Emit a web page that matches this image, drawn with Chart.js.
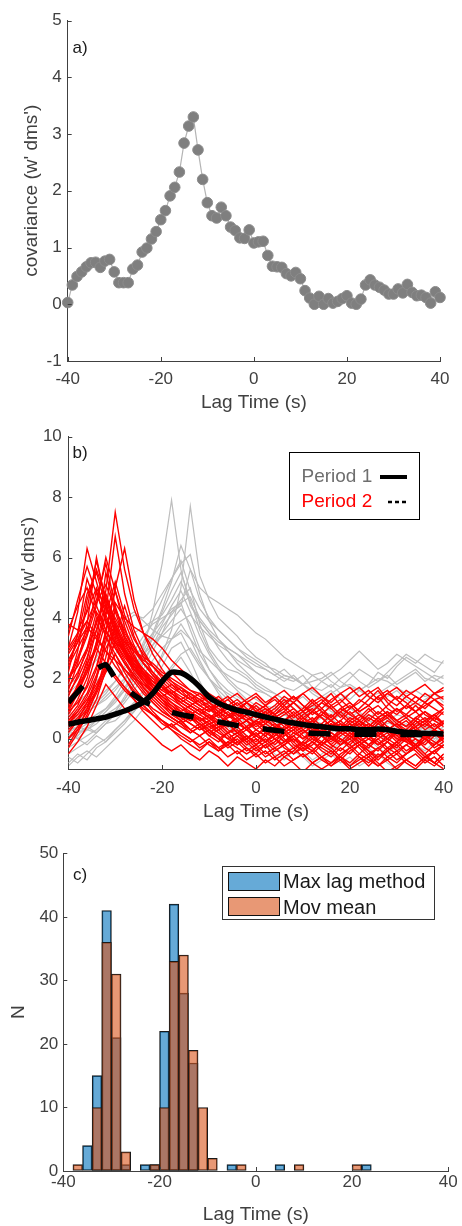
<!DOCTYPE html>
<html>
<head>
<meta charset="utf-8">
<script src="https://cdn.jsdelivr.net/npm/chart.js@4.4.1/dist/chart.umd.min.js"></script>
<style>
  html, body { margin: 0; padding: 0; background: #fff; }
  body { width: 462px; height: 1226px; position: relative; overflow: hidden; }
  canvas { position: absolute; left: 0; }
</style>
</head>
<body>
<canvas id="chartA" width="462" height="420" style="top:0px"></canvas>
<canvas id="chartB" width="462" height="410" style="top:420px"></canvas>
<canvas id="chartC" width="462" height="396" style="top:830px"></canvas>
<script>
// ---- panel a : mean covariance vs lag ----
var lagA = [-40,-39,-38,-37,-36,-35,-34,-33,-32,-31,-30,-29,-28,-27,-26,-25,-24,-23,-22,-21,
            -20,-19,-18,-17,-16,-15,-14,-13,-12,-11,-10,-9,-8,-7,-6,-5,-4,-3,-2,-1,
            0,1,2,3,4,5,6,7,8,9,10,11,12,13,14,15,16,17,18,19,
            20,21,22,23,24,25,26,27,28,29,30,31,32,33,34,35,36,37,38,39,40];
var covA = [0.03,0.34,0.49,0.57,0.66,0.73,0.74,0.65,0.76,0.79,
            0.57,0.38,0.38,0.38,0.62,0.69,0.92,0.99,1.15,1.28,
            1.49,1.65,1.91,2.06,2.33,2.84,3.14,3.30,2.72,2.20,
            1.79,1.56,1.52,1.71,1.56,1.36,1.30,1.17,1.16,1.31,
            1.08,1.10,1.11,0.86,0.67,0.66,0.65,0.54,0.50,0.56,
            0.45,0.24,0.11,0.00,0.14,0.00,0.10,0.02,0.05,0.10,
            0.15,0.02,0.00,0.09,0.34,0.43,0.34,0.30,0.25,0.18,
            0.18,0.27,0.20,0.35,0.21,0.15,0.16,0.12,0.02,0.22,
            0.12];

// ---- panel b : individual covariance runs (2 s grid) ----
var lagB = [-40,-38,-36,-34,-32,-30,-28,-26,-24,-22,-20,-18,-16,-14,-12,-10,-8,-6,-4,-2,
            0,2,4,6,8,10,12,14,16,18,20,22,24,26,28,30,32,34,36,38,40];
var period1Mean = [0.48,0.55,0.60,0.66,0.72,0.82,0.92,1.05,1.22,1.50, 1.90,2.20,2.18,2.00,1.72,1.38,1.18,1.05,0.95,0.88,
                   0.80,0.72,0.65,0.58,0.52,0.47,0.43,0.40,0.36,0.33, 0.33,0.30,0.30,0.32,0.30,0.25,0.22,0.20,0.18,0.17, 0.16];
var period2Mean = [1.20,1.55,1.90,2.30,2.45,2.00,1.70,1.45,1.25,1.10, 0.98,0.88,0.80,0.74,0.68,0.62,0.56,0.50,0.44,0.40,
                   0.36,0.32,0.28,0.24,0.22,0.20,0.18,0.17,0.16,0.16, 0.15,0.15,0.15,0.15,0.15,0.15,0.14,0.14,0.13,0.13, 0.12];
var period1Runs = [
  [0.3,0.4,0.6,0.8,1.0,1.3,1.6,2.2,3.0,4.2, 5.8,7.9,5.6,4.4,3.9,3.5,3.0,2.6,2.3,2.1, 1.8,1.6,1.5,1.3,1.2,1.0,1.1,0.9,0.8,0.9, 0.7,0.6,0.8,0.6,0.5,0.6,0.4,0.5,0.3,0.4, 0.3],
  [0.1,0.2,0.3,0.2,0.5,0.6,0.9,1.2,1.6,2.1, 2.8,3.6,5.0,7.7,5.4,4.6,4.0,3.7,3.4,3.0, 2.7,2.5,2.2,2.0,1.9,2.1,1.7,1.6,1.8,1.5, 1.3,1.6,1.8,2.2,2.0,2.4,2.7,2.5,2.8,2.6, 2.5],
  [0.5,0.7,0.9,1.1,1.4,1.7,2.0,2.4,2.9,3.5, 4.3,5.2,6.4,5.6,5.0,4.7,4.5,4.3,4.1,3.8, 3.5,3.3,3.0,2.7,2.5,2.3,2.1,2.2,1.9,1.7, 1.8,1.6,1.4,1.5,1.7,1.9,2.1,2.3,2.0,1.9, 2.1],
  [1.8,2.0,2.3,2.6,3.0,3.4,3.8,4.1,4.0,4.3, 4.8,5.3,5.9,4.9,4.3,3.9,3.6,3.3,3.0,2.8, 2.6,2.4,2.3,2.1,2.0,1.8,1.9,2.0,2.2,1.9, 1.7,1.6,1.8,2.0,1.9,1.7,1.5,1.6,1.4,1.5, 1.7],
  [0.2,0.0,0.3,0.5,0.8,1.0,1.3,1.8,2.3,2.9, 3.5,4.2,4.6,5.0,3.8,3.0,2.6,2.3,2.2,2.0, 1.7,1.5,1.3,1.2,1.0,0.8,0.9,0.7,0.6,0.8, 0.5,0.4,0.6,0.4,0.3,0.5,0.3,0.2,0.4,0.3, 0.2],
  [-0.3,-0.1,0.1,0.3,0.6,0.9,1.3,1.8,2.5,3.1, 3.7,4.1,4.5,3.6,2.8,2.3,1.9,1.6,1.4,1.2, 1.0,0.9,0.7,0.6,0.5,0.4,0.6,0.3,0.2,0.4, 0.2,0.1,0.3,0.1,0.0,0.2,0.1,-0.1,0.1,0.0, 0.1],
  [0.8,0.6,0.9,1.1,1.3,1.6,2.0,2.4,2.8,3.1, 3.4,3.7,3.9,4.1,3.7,3.4,3.1,2.9,2.6,2.4, 2.2,2.0,1.9,2.1,2.0,1.8,1.6,1.9,2.1,2.3, 2.6,2.9,2.6,2.3,2.5,2.8,2.6,2.4,2.2,2.0, 1.8],
  [-0.5,-0.3,-0.1,0.2,0.5,0.8,1.2,1.6,2.1,2.6, 3.0,3.3,3.5,2.9,2.4,2.0,1.7,1.5,1.3,1.1, 0.9,0.8,0.6,0.5,0.7,0.4,0.3,0.5,0.3,0.2, 0.4,0.1,0.3,0.2,0.0,0.2,0.1,0.3,0.1,0.0, 0.2],
  [-0.8,-0.5,-0.7,-0.3,-0.1,0.2,0.5,0.9,1.3,1.8, 2.4,3.0,3.2,2.6,1.9,1.3,0.9,0.6,0.3,0.1, -0.2,0.0,-0.3,-0.5,-0.2,-0.4,-0.7,-0.5,-0.3,-0.6, -0.8,-0.5,-0.3,-0.6,-0.4,-0.7,-0.5,-0.3,-0.6,-0.8, -0.5],
  [0.3,0.0,-0.2,0.1,-0.1,0.3,0.6,1.0,1.5,2.1, 2.7,3.3,3.8,3.3,2.6,2.0,1.5,1.1,0.8,0.5, 0.3,0.1,-0.2,0.0,-0.3,-0.1,0.1,-0.2,-0.4,-0.1, 0.1,-0.2,0.0,-0.3,-0.5,-0.2,0.0,-0.3,-0.1,0.1, -0.2],
  [1.5,1.8,2.2,2.7,3.2,3.7,4.0,4.2,3.9,3.6, 3.4,3.3,3.6,3.3,2.9,2.6,2.3,2.1,1.9,1.8, 1.6,1.5,1.3,1.2,1.4,1.1,1.0,1.2,0.9,0.8, 1.0,0.8,0.7,0.9,0.6,0.8,0.7,0.5,0.7,0.6, 0.5],
  [0.6,0.8,1.0,1.3,1.6,1.9,2.3,2.7,3.1,3.5, 3.9,4.3,4.5,4.7,4.0,3.6,3.3,3.0,2.8,2.5, 2.2,2.0,1.9,1.7,1.6,1.8,1.5,1.3,1.5,1.7, 2.0,2.3,2.1,1.9,2.2,2.5,2.8,2.6,2.4,2.2, 2.6],
  [-0.9,-0.6,-0.4,-0.6,-0.3,0.0,0.3,0.6,1.0,1.4, 1.9,2.3,2.7,2.2,1.6,1.1,0.7,0.4,0.1,-0.2, -0.4,-0.2,-0.5,-0.7,-0.4,-0.6,-0.9,-0.7,-0.5,-0.8, -0.6,-0.9,-0.7,-0.5,-0.8,-1.0,-0.7,-0.5,-0.8,-0.6, -0.9],
  [0.0,0.2,0.4,0.6,0.9,1.2,1.6,2.1,2.7,3.4, 4.2,4.9,5.5,4.6,3.6,2.9,2.4,2.0,1.7,1.5, 1.3,1.1,1.0,0.8,0.7,0.9,0.6,0.5,0.7,0.4, 0.3,0.5,0.4,0.2,0.4,0.3,0.1,0.3,0.2,0.0, 0.1],
  [0.4,0.3,0.5,0.7,1.0,1.4,1.9,2.5,3.2,3.9, 4.6,5.3,5.8,6.1,4.8,3.9,3.3,2.9,2.5,2.2, 1.9,1.7,1.5,1.3,1.2,1.4,1.1,0.9,1.0,0.8, 0.7,0.9,0.6,0.5,0.7,0.4,0.5,0.3,0.4,0.2, 0.3],
  [-0.6,-0.8,-0.5,-0.2,0.0,0.3,0.6,0.9,1.3,1.7, 2.0,2.4,2.8,3.0,2.5,2.0,1.6,1.3,1.0,0.8, 0.6,0.4,0.6,0.3,0.1,0.3,0.0,-0.2,0.1,-0.1, -0.3,0.0,-0.2,-0.4,-0.1,-0.3,-0.5,-0.2,-0.4,-0.1, -0.3],
  [0.2,0.4,0.3,0.6,0.9,1.3,1.7,2.2,2.8,3.3, 3.8,4.4,4.9,4.2,3.4,2.8,2.3,1.9,1.6,1.3, 1.1,0.9,1.1,0.8,0.6,0.8,0.5,0.7,0.4,0.6, 0.3,0.5,0.2,0.4,0.6,0.3,0.1,0.3,0.5,0.2, 0.4],
  [1.0,1.2,1.5,1.9,2.3,2.8,3.2,3.5,3.7,3.9, 4.1,4.6,5.2,4.5,3.9,3.5,3.2,3.0,2.8,2.6, 2.4,2.3,2.1,2.3,2.0,1.8,2.1,1.9,1.7,2.0, 2.2,1.9,1.7,1.9,2.1,1.8,2.0,2.2,1.9,2.1, 2.0],
  [-0.2,0.1,0.4,0.2,0.5,0.9,1.4,2.0,2.6,3.1, 3.5,3.9,4.3,3.8,3.0,2.3,1.8,1.4,1.1,0.8, 0.6,0.8,0.5,0.3,0.5,0.2,0.0,0.2,0.4,0.1, -0.1,0.2,0.0,-0.2,0.1,0.3,0.0,-0.2,0.1,-0.1, 0.2],
  [0.9,0.7,1.0,1.2,1.5,1.9,2.4,2.9,3.4,3.8, 4.0,4.2,4.4,5.6,4.6,4.0,3.6,3.3,3.0,2.7, 2.5,2.3,2.1,1.9,2.1,1.8,1.6,1.4,1.6,1.3, 1.5,1.7,1.4,1.2,1.4,1.6,1.3,1.1,1.3,1.5, 1.2]
];
var period2Runs = [
  [2.0,2.4,3.0,3.8,4.9,7.5,5.6,4.3,3.5,3.0, 2.6,2.2,1.9,1.6,1.4,1.2,1.0,0.8,0.9,0.7, 0.5,0.6,0.4,0.3,0.5,0.2,0.4,0.1,0.3,0.5, 0.2,0.0,0.3,0.1,0.4,0.2,0.0,0.3,0.1,0.2, 0.0],
  [3.0,4.2,6.3,5.2,4.1,3.4,2.8,2.3,1.9,1.6, 1.3,1.0,0.8,0.6,0.7,0.4,0.5,0.2,0.3,0.0, 0.2,-0.1,0.1,0.3,0.0,-0.2,0.1,-0.1,0.2,0.0, -0.3,-0.1,0.1,-0.2,0.0,0.2,-0.1,-0.3,0.0,-0.2, 0.1],
  [1.2,1.6,2.2,3.0,4.2,6.7,4.8,3.6,2.9,2.4, 2.0,1.7,1.5,1.3,1.1,1.2,0.9,0.7,0.8,0.6, 0.4,0.6,0.8,0.5,0.3,0.6,0.9,0.7,0.4,0.6, 0.3,0.5,0.8,0.6,0.3,0.5,0.7,0.4,0.6,0.8, 0.5],
  [2.5,3.2,4.3,5.9,4.6,3.7,3.0,2.5,2.1,1.8, 1.5,1.3,1.1,0.9,0.7,0.5,0.6,0.3,0.1,0.3, 0.0,-0.3,-0.1,0.2,-0.2,-0.4,-0.1,-0.3,-0.5,-0.2, 0.0,-0.3,-0.6,-0.3,-0.1,-0.4,-0.2,0.0,-0.3,-0.5, -0.2],
  [0.8,1.3,2.0,3.2,5.5,4.2,3.3,2.7,2.3,1.9, 1.7,1.4,1.2,1.0,0.8,1.0,0.7,0.9,0.6,0.8, 1.1,0.8,1.0,1.3,1.0,0.7,0.9,1.2,1.5,1.1, 0.8,1.0,1.3,1.6,1.2,0.9,1.1,1.4,1.2,1.5, 1.3],
  [3.8,3.6,4.2,5.0,4.3,3.6,3.2,2.9,2.7,2.5, 2.2,2.0,1.8,1.6,1.5,1.3,1.2,1.0,0.8,1.0, 0.7,0.9,0.6,0.8,1.0,0.7,0.5,0.8,0.6,0.9, 1.1,0.8,0.6,0.9,0.7,1.0,0.8,0.6,0.9,0.7, 1.0],
  [1.5,2.0,2.7,3.6,4.8,3.9,3.2,2.6,2.2,1.8, 1.5,1.2,0.9,0.7,0.5,0.3,0.1,-0.2,0.0,-0.3, -0.5,-0.2,-0.6,-0.4,-0.7,-0.5,-0.8,-0.6,-0.4,-0.7, -0.9,-0.6,-0.8,-0.5,-0.7,-1.0,-0.7,-0.5,-0.8,-0.6, -0.9],
  [0.3,0.6,1.0,1.6,2.7,4.3,3.5,3.0,2.6,2.4, 2.1,1.8,1.6,1.5,1.3,1.4,1.1,1.3,1.0,1.2, 0.9,1.1,1.4,1.1,0.8,1.0,1.3,1.0,0.7,1.0, 1.2,0.9,1.1,1.4,1.0,0.8,1.1,0.9,1.2,1.0, 0.8],
  [2.2,3.5,5.3,4.4,3.6,3.0,2.5,2.1,1.7,1.4, 1.1,0.9,0.7,0.5,0.3,0.4,0.2,0.0,0.2,-0.1, 0.1,0.3,0.0,0.2,0.4,0.1,-0.1,0.2,0.0,0.3, 0.1,-0.2,0.0,0.2,0.4,0.1,-0.1,0.2,0.0,0.3, 0.1],
  [1.0,1.7,2.6,4.0,3.5,3.2,2.9,2.6,2.3,2.0, 1.7,1.5,1.3,1.1,0.9,0.7,0.8,0.5,0.6,0.3, 0.5,0.2,0.4,0.1,0.3,0.5,0.2,0.4,0.6,0.3, 0.1,0.4,0.2,0.5,0.3,0.0,0.2,0.4,0.1,0.3, 0.5],
  [-0.2,0.3,1.0,2.0,3.4,2.6,2.0,1.5,1.1,0.8, 0.5,0.3,0.1,-0.1,0.1,-0.2,-0.4,-0.1,-0.3,-0.5, -0.3,-0.6,-0.4,-0.2,-0.5,-0.3,-0.1,-0.4,-0.6,-0.3, -0.5,-0.2,-0.4,-0.7,-0.4,-0.2,-0.5,-0.3,-0.6,-0.4, -0.2],
  [1.6,2.5,3.8,6.0,4.5,3.5,2.8,2.2,1.8,1.5, 1.2,1.0,0.8,0.6,0.7,0.5,0.3,0.5,0.2,0.4, 0.6,0.3,0.5,0.2,0.4,0.7,0.4,0.2,0.5,0.3, 0.6,0.8,0.5,0.3,0.6,0.4,0.2,0.5,0.7,0.4, 0.6],
  [0.5,0.9,1.4,2.1,3.2,4.5,4.0,3.7,3.5,3.3, 3.0,2.6,2.3,2.0,1.7,1.5,1.3,1.1,1.3,1.0, 0.8,1.0,0.7,0.9,1.2,0.9,0.6,0.8,1.1,0.8, 0.5,0.7,1.0,0.7,0.9,0.6,0.8,1.1,0.8,0.6, 0.9],
  [2.8,3.3,3.9,4.6,5.8,4.4,3.4,2.7,2.1,1.7, 1.4,1.1,0.8,0.9,0.6,0.7,0.4,0.5,0.2,0.4, 0.1,-0.1,0.2,-0.1,0.1,-0.2,0.0,0.3,0.0,-0.2, 0.1,-0.1,-0.3,0.0,0.2,-0.1,0.1,-0.2,0.0,-0.3, -0.1],
  [0.0,0.4,0.9,1.5,2.2,2.8,2.2,1.7,1.3,0.9, 0.6,0.3,0.0,-0.2,-0.4,-0.1,-0.3,-0.6,-0.4,-0.7, -0.5,-0.8,-0.6,-0.9,-0.7,-0.5,-0.8,-1.0,-0.8,-0.6, -0.9,-0.7,-0.5,-0.8,-1.1,-0.9,-0.7,-0.9,-0.6,-0.8, -1.0],
  [2.6,3.2,3.7,3.3,2.9,2.6,2.3,2.0,1.8,1.6, 1.4,1.6,1.3,1.1,0.9,1.1,0.8,1.0,1.2,0.9, 0.7,0.9,1.1,1.4,1.2,0.9,1.1,1.3,1.0,1.2, 1.5,1.7,1.4,1.2,1.5,1.3,1.6,1.4,1.2,1.5, 1.6],
  [0.9,1.2,1.7,2.4,3.5,4.9,3.7,2.8,2.2,1.7, 1.3,1.0,0.7,0.5,0.3,0.5,0.2,0.0,0.2,0.4, 0.1,-0.1,0.1,0.3,0.6,0.3,0.1,-0.2,0.0,0.2, 0.5,0.2,0.0,-0.2,0.1,0.3,0.0,-0.3,-0.1,0.2, 0.0],
  [1.1,1.8,2.5,3.0,2.5,2.1,1.7,1.4,1.1,0.8, 0.6,0.4,0.2,0.0,-0.2,0.0,-0.3,-0.1,0.1,-0.2, 0.0,-0.3,-0.1,0.2,-0.1,-0.4,-0.2,0.1,-0.2,-0.4, -0.1,0.1,-0.2,-0.4,-0.1,-0.3,0.0,-0.2,-0.5,-0.2, 0.0],
  [1.9,2.6,3.4,4.4,6.0,4.9,3.9,3.1,2.5,2.1, 1.8,1.5,1.3,1.1,0.9,0.7,0.9,0.6,0.4,0.6, 0.3,0.5,0.7,0.4,0.2,0.4,0.6,0.3,0.5,0.2, 0.4,0.6,0.3,0.1,0.3,0.5,0.2,0.4,0.6,0.3, 0.1],
  [3.0,3.5,3.9,3.4,2.9,2.4,2.0,1.6,1.3,1.0, 0.8,0.6,0.4,0.2,0.4,0.1,0.3,0.0,-0.2,0.1, -0.1,0.2,0.0,-0.2,0.1,0.3,0.0,-0.2,0.1,-0.1, 0.2,-0.1,0.1,0.3,0.0,-0.2,0.1,0.3,0.0,0.2, -0.1],
  [0.4,0.7,1.1,1.6,2.3,3.3,4.4,3.4,2.7,2.2, 1.8,1.5,1.2,1.0,0.8,0.6,0.8,0.5,0.7,0.4, 0.6,0.8,0.5,0.3,0.5,0.8,1.0,0.7,0.4,0.6, 0.9,0.6,0.3,0.6,0.8,0.5,0.3,0.6,0.4,0.7, 0.5],
  [0.6,0.9,1.3,1.8,2.4,2.0,1.6,1.3,1.0,0.8, 0.6,0.4,0.6,0.3,0.1,0.3,0.0,0.2,-0.1,0.1, -0.2,0.0,-0.3,-0.1,0.1,-0.2,-0.4,-0.1,-0.3,0.0, -0.2,-0.5,-0.2,0.0,-0.3,-0.1,-0.4,-0.2,0.1,-0.1, -0.3],
  [1.3,1.7,2.3,3.1,4.1,5.2,4.1,3.3,2.8,2.4, 2.1,1.9,1.7,1.5,1.3,1.1,0.9,1.1,0.8,0.6, 0.8,0.5,0.7,0.9,0.6,0.4,0.6,0.9,0.6,0.4, 0.7,0.5,0.2,0.5,0.7,0.4,0.6,0.3,0.5,0.8, 0.5],
  [0.2,0.6,1.2,2.0,3.0,3.6,2.9,2.3,1.9,1.6, 1.3,1.1,0.9,1.1,1.3,1.0,1.2,1.4,1.1,1.3, 1.5,1.2,1.4,1.6,1.3,1.5,1.7,1.4,1.2,1.5, 1.7,1.4,1.6,1.3,1.5,1.7,1.4,1.6,1.8,1.5, 1.7],
  [-0.5,-0.1,0.4,1.1,1.8,1.4,1.0,0.7,0.4,0.1, -0.2,-0.4,-0.2,-0.5,-0.7,-0.4,-0.6,-0.9,-0.6,-0.8, -1.0,-0.7,-0.9,-0.6,-0.8,-1.1,-0.8,-0.6,-0.9,-0.7, -1.0,-0.8,-0.6,-0.9,-0.7,-0.5,-0.8,-1.0,-0.7,-0.9, -0.6],
  [0.9,1.5,2.4,3.6,4.4,3.7,3.0,2.5,2.0,1.6, 1.3,1.0,0.7,0.9,0.6,0.3,0.5,0.2,0.4,0.6, 0.3,0.1,0.4,0.2,-0.1,0.2,0.4,0.1,-0.1,0.2, 0.0,0.3,0.5,0.2,0.0,0.3,0.1,-0.2,0.1,0.3, 0.0],
  [1.8,2.9,4.6,5.6,4.7,3.8,3.1,2.6,2.2,1.9, 1.6,1.4,1.2,1.4,1.1,0.9,1.2,1.0,0.7,0.9, 1.2,1.0,0.8,1.1,1.4,1.1,0.9,1.2,1.0,0.7, 1.0,1.3,1.1,0.8,1.1,1.4,1.2,0.9,1.1,1.3, 1.0],
  [0.7,1.1,1.8,2.8,3.9,3.2,2.6,2.1,1.7,1.3, 1.0,0.7,0.5,0.2,0.4,0.1,-0.1,0.2,0.4,0.1, -0.2,0.1,0.3,0.0,-0.3,-0.1,0.2,0.4,0.1,-0.2, 0.0,0.3,0.1,-0.1,-0.4,-0.1,0.2,0.0,-0.2,0.1, 0.3],
  [2.4,3.0,3.6,4.5,5.1,4.3,3.6,3.0,2.5,2.1, 1.7,1.4,1.1,0.8,1.0,0.7,0.5,0.8,0.5,0.3, 0.6,0.4,0.1,0.4,0.6,0.3,0.5,0.2,0.0,0.3, 0.5,0.2,0.4,0.7,0.4,0.1,0.3,0.6,0.3,0.5, 0.2],
  [0.0,0.3,0.7,1.3,2.3,3.8,3.0,2.4,1.9,1.5, 1.2,0.9,0.6,0.8,0.5,0.2,0.4,0.1,-0.2,0.0, -0.3,-0.1,-0.4,-0.2,0.0,-0.3,-0.5,-0.2,-0.4,-0.7, -0.4,-0.2,-0.5,-0.3,-0.6,-0.8,-0.5,-0.3,-0.6,-0.4, -0.7],
  [3.4,4.6,5.7,4.8,4.0,3.3,2.8,2.4,2.1,1.9, 1.7,1.5,1.3,1.5,1.2,1.0,0.8,1.1,0.9,1.2, 1.0,0.7,0.9,1.2,1.4,1.1,0.8,1.0,1.3,1.5, 1.2,0.9,1.1,1.4,1.6,1.3,1.0,1.2,1.5,1.3, 1.1],
  [1.4,2.1,3.0,4.2,3.6,3.0,2.5,2.1,1.7,1.4, 1.1,0.8,0.6,0.3,0.5,0.2,0.0,-0.3,-0.1,-0.4, -0.2,-0.5,-0.3,-0.6,-0.4,-0.1,-0.3,-0.6,-0.8,-0.5, -0.3,-0.6,-0.9,-0.6,-0.4,-0.7,-0.5,-0.2,-0.5,-0.8, -0.5],
  [0.6,1.0,1.5,2.3,3.6,5.0,6.3,4.6,3.5,2.8, 2.3,1.9,1.6,1.3,1.1,0.9,1.1,0.8,0.6,0.8, 0.5,0.7,0.4,0.6,0.9,0.6,0.3,0.5,0.8,0.5, 0.3,0.6,0.4,0.7,0.9,0.6,0.4,0.7,0.5,0.3, 0.6],
  [2.0,2.7,3.5,4.9,3.9,3.1,2.5,2.0,1.6,1.2, 0.9,0.7,0.5,0.7,0.4,0.6,0.3,0.5,0.2,0.0, 0.3,0.1,-0.2,0.1,0.3,0.0,0.2,0.5,0.2,0.0, -0.2,0.1,0.4,0.1,-0.1,0.2,0.0,-0.3,0.0,0.2, -0.1],
  [1.0,1.5,2.2,3.2,4.4,3.5,2.9,2.5,2.2,1.9, 1.7,1.5,1.7,1.4,1.2,1.4,1.1,1.3,1.5,1.2, 1.4,1.1,1.3,1.0,1.2,1.5,1.2,1.4,1.1,1.3, 1.0,1.2,1.5,1.7,1.3,1.1,1.4,1.2,1.0,1.3, 1.4],
  [-0.3,0.2,0.8,1.6,2.5,2.1,1.7,1.3,0.9,0.6, 0.3,0.5,0.2,0.0,-0.3,-0.1,-0.4,-0.2,-0.5,-0.3, -0.6,-0.4,-0.7,-0.5,-0.3,-0.6,-0.4,-0.7,-0.9,-0.6, -0.8,-0.5,-0.7,-0.9,-0.6,-0.4,-0.7,-0.9,-0.6,-0.8, -0.5],
  [2.9,3.4,4.8,5.5,4.4,3.5,2.9,2.4,2.0,1.7, 1.4,1.2,1.0,0.8,0.6,0.8,0.5,0.7,0.9,0.6, 0.8,0.5,0.3,0.6,0.8,0.5,0.7,0.4,0.6,0.9, 0.6,0.4,0.7,0.5,0.8,0.6,0.4,0.7,0.9,0.6, 0.4],
  [1.7,2.2,2.9,3.9,4.6,4.0,3.4,2.9,2.5,2.2, 1.9,1.6,1.4,1.2,1.0,0.8,0.6,0.4,0.6,0.3, 0.1,0.4,0.2,-0.1,0.2,0.0,0.3,0.1,-0.2,0.1, 0.3,0.0,-0.2,0.1,0.3,0.0,-0.1,0.2,0.0,-0.2, 0.1],
  [0.5,0.8,1.2,1.7,2.4,3.2,2.7,2.3,2.0,1.8, 1.6,1.8,1.5,1.3,1.5,1.2,1.4,1.1,0.9,1.2, 0.9,1.1,0.8,1.0,0.7,0.9,1.2,0.9,0.7,1.0, 0.8,0.6,0.9,1.1,0.8,1.0,0.7,0.9,0.6,0.8, 1.0],
  [3.6,4.4,5.0,4.1,3.4,2.8,2.3,1.9,1.5,1.2, 0.9,0.7,0.5,0.3,0.1,0.3,0.0,-0.2,0.1,-0.1, -0.4,-0.2,0.0,-0.3,-0.5,-0.2,-0.4,-0.1,-0.3,-0.6, -0.3,-0.1,-0.4,-0.6,-0.3,-0.5,-0.2,-0.4,-0.7,-0.4, -0.2]
];

// ---- panel c : histogram of lag times (2 s bins) ----
var binCenters = [-39,-37,-35,-33,-31,-29,-27,-25,-23,-21,-19,-17,-15,-13,-11,-9,-7,-5,-3,-1,
                  1,3,5,7,9,11,13,15,17,19,21,23,25,27,29,31,33,35,37,39];
var maxLagCounts  = [0,0,4,15,41,21,1,0,1,1, 22,42,28,17,0,0,0,1,0,0, 0,0,1,0,0,0,0,0,0,0, 0,1,0,0,0,0,0,0,0,0];
var movMeanCounts = [0,1,0,10,36,31,3,0,0,1, 10,33,34,19,10,2,0,0,1,0, 0,0,0,0,1,0,0,0,0,0, 1,0,0,0,0,0,0,0,0,0];

// ---- tick labels ----
var lagTicks = [-40,-20,0,20,40];
var covTicksA = [-1,0,1,2,3,4,5];
var covTicksB = [0,2,4,6,8,10];
var countTicks = [0,10,20,30,40,50];

var FONT = '"Liberation Sans", Arial, Helvetica, sans-serif';
var AXIS = '#404040';
var GREY_RUN = '#bebebe';
var RED_RUN = '#ff0000';

function xy(xs, ys) {
  return xs.map(function (x, i) { return { x: x, y: ys[i] }; });
}

function axis(min, max, ticks, title, o) {
  return {
    type: 'linear', min: min, max: max, offset: false,
    afterBuildTicks: function (s) { s.ticks = ticks.map(function (v) { return { value: v }; }); },
    afterFit: function (s) { if (s.isHorizontal()) s.height = o.size; else s.width = o.size; },
    grid: { display: true, drawOnChartArea: false, drawTicks: false, offset: false },
    border: { display: true, color: AXIS, width: 1 },
    ticks: { color: AXIS, font: { family: FONT, size: 17 }, padding: o.pad, maxRotation: 0, autoSkip: false,
             callback: function (v) { return String(v); } },
    title: { display: true, text: title, color: AXIS, font: { family: FONT, size: 19 },
             padding: { top: o.tpad, bottom: o.tpad } }
  };
}

// inward tick marks, panel letter and hand drawn legend (matlab look)
function decor(letter, lx, ly, legend) {
  return {
    id: 'decor',
    afterDraw: function (chart) {
      var ctx = chart.ctx, a = chart.chartArea, xs = chart.scales.x, ys = chart.scales.y;
      ctx.save();
      ctx.strokeStyle = AXIS; ctx.lineWidth = 1;
      ctx.beginPath();
      xs.ticks.forEach(function (t) {
        var p = Math.round(xs.getPixelForValue(t.value)) + 0.5;
        ctx.moveTo(p, a.bottom); ctx.lineTo(p, a.bottom - 4);
      });
      ys.ticks.forEach(function (t) {
        var p = Math.round(ys.getPixelForValue(t.value)) + 0.5;
        ctx.moveTo(a.left, p); ctx.lineTo(a.left + 4, p);
      });
      ctx.stroke();
      ctx.fillStyle = '#1a1a1a';
      ctx.font = '17px ' + FONT;
      ctx.textAlign = 'left'; ctx.textBaseline = 'middle';
      ctx.fillText(letter, lx, ly);
      if (legend) legend(ctx);
      ctx.restore();
    }
  };
}

function legendB(ctx) {
  ctx.fillStyle = '#fff'; ctx.fillRect(289.5, 32.5, 130, 67);
  ctx.strokeStyle = '#000'; ctx.lineWidth = 1; ctx.strokeRect(289.5, 32.5, 130, 67);
  ctx.font = '19px ' + FONT; ctx.textAlign = 'left'; ctx.textBaseline = 'middle';
  ctx.fillStyle = '#6e6e6e'; ctx.fillText('Period 1', 301.5, 57);
  ctx.fillStyle = RED_RUN; ctx.fillText('Period 2', 301.5, 82);
  ctx.strokeStyle = '#000'; ctx.lineWidth = 4;
  ctx.beginPath(); ctx.moveTo(380, 57); ctx.lineTo(407, 57); ctx.stroke();
  ctx.lineWidth = 2.5; ctx.setLineDash([4, 3]);
  ctx.beginPath(); ctx.moveTo(388, 82); ctx.lineTo(407, 82); ctx.stroke();
  ctx.setLineDash([]);
}

function legendC(ctx) {
  ctx.fillStyle = '#fff'; ctx.fillRect(222.5, 36.5, 212, 53);
  ctx.strokeStyle = '#333'; ctx.lineWidth = 1; ctx.strokeRect(222.5, 36.5, 212, 53);
  ctx.fillStyle = 'rgba(0,114,189,0.6)'; ctx.fillRect(228.5, 42.5, 51, 18);
  ctx.fillStyle = 'rgba(217,83,25,0.6)'; ctx.fillRect(228.5, 67.5, 51, 18);
  ctx.strokeStyle = '#111';
  ctx.strokeRect(228.5, 42.5, 51, 18); ctx.strokeRect(228.5, 67.5, 51, 18);
  ctx.font = '20px ' + FONT; ctx.textAlign = 'left'; ctx.textBaseline = 'middle';
  ctx.fillStyle = '#1a1a1a';
  ctx.fillText('Max lag method', 283, 52);
  ctx.fillText('Mov mean', 283, 78);
}

var common = {
  responsive: false, animation: false,
  plugins: { legend: { display: false }, tooltip: { enabled: false } }
};

// panel a
new Chart(document.getElementById('chartA'), {
  type: 'line',
  data: { datasets: [{
    data: xy(lagA, covA), borderColor: '#b4b4b4', borderWidth: 1.2, tension: 0, clip: false,
    pointRadius: 5.3, pointBackgroundColor: '#7f7f7f', pointBorderColor: '#8c8c8c', pointBorderWidth: 1
  }]},
  options: Object.assign({}, common, {
    layout: { padding: { top: 20.5, right: 22, left: 0, bottom: 0 } },
    scales: {
      x: axis(-40, 40, lagTicks, 'Lag Time (s)', { size: 59, pad: 8, tpad: 5.6 }),
      y: axis(-1, 5, covTicksA, "covariance (w' dms')", { size: 67.7, pad: 6, tpad: 20.3 })
    }
  }),
  plugins: [decor('a)', 72.5, 48)]
});

// panel b : first dataset is drawn on top
var runsB = [
  { data: xy(lagB, period1Mean), borderColor: '#000', borderWidth: 5.5, pointRadius: 0, tension: 0.2, borderJoinStyle: 'round' },
  { data: xy(lagB, period2Mean), borderColor: '#000', borderWidth: 5.5, pointRadius: 0, tension: 0.2, borderDash: [22, 24] }
];
period2Runs.forEach(function (r) {
  runsB.push({ data: xy(lagB, r), borderColor: RED_RUN, borderWidth: 1.4, pointRadius: 0, tension: 0 });
});
period1Runs.forEach(function (r) {
  runsB.push({ data: xy(lagB, r), borderColor: GREY_RUN, borderWidth: 1.2, pointRadius: 0, tension: 0 });
});
new Chart(document.getElementById('chartB'), {
  type: 'line',
  data: { datasets: runsB },
  options: Object.assign({}, common, {
    layout: { padding: { top: 13.3, right: 15.3, left: 0, bottom: 0 } },
    scales: {
      x: axis(-40, 40, lagTicks, 'Lag Time (s)', { size: 61, pad: 8.8, tpad: 6.6 }),
      y: axis(-1, 10, covTicksB, "covariance (w' dms')", { size: 68.3, pad: 6.5, tpad: 17.8 })
    }
  }),
  plugins: [decor('b)', 72.5, 33.5, legendB)]
});

// panel c : overlapping histograms, orange over blue
function bars(counts) {
  return binCenters.map(function (x, i) { return { x: x, y: counts[i] > 0 ? counts[i] : null }; });
}
new Chart(document.getElementById('chartC'), {
  type: 'bar',
  data: { datasets: [
    { label: 'Mov mean', data: bars(movMeanCounts), backgroundColor: 'rgba(217,83,25,0.6)',
      borderColor: '#1a1a1a', borderWidth: 1, borderSkipped: false, grouped: false,
      barPercentage: 1, categoryPercentage: 1 },
    { label: 'Max lag method', data: bars(maxLagCounts), backgroundColor: 'rgba(0,114,189,0.6)',
      borderColor: '#1a1a1a', borderWidth: 1, borderSkipped: false, grouped: false,
      barPercentage: 1, categoryPercentage: 1 }
  ]},
  options: Object.assign({}, common, {
    layout: { padding: { top: 23.3, right: 13.7, left: 0, bottom: 0 } },
    scales: {
      x: axis(-40, 40, lagTicks, 'Lag Time (s)', { size: 55, pad: 1, tpad: 0 }),
      y: axis(0, 50, countTicks, 'N', { size: 63.3, pad: 5, tpad: 6.9 })
    }
  }),
  plugins: [decor('c)', 73, 45, legendC)]
});
</script>
</body>
</html>
